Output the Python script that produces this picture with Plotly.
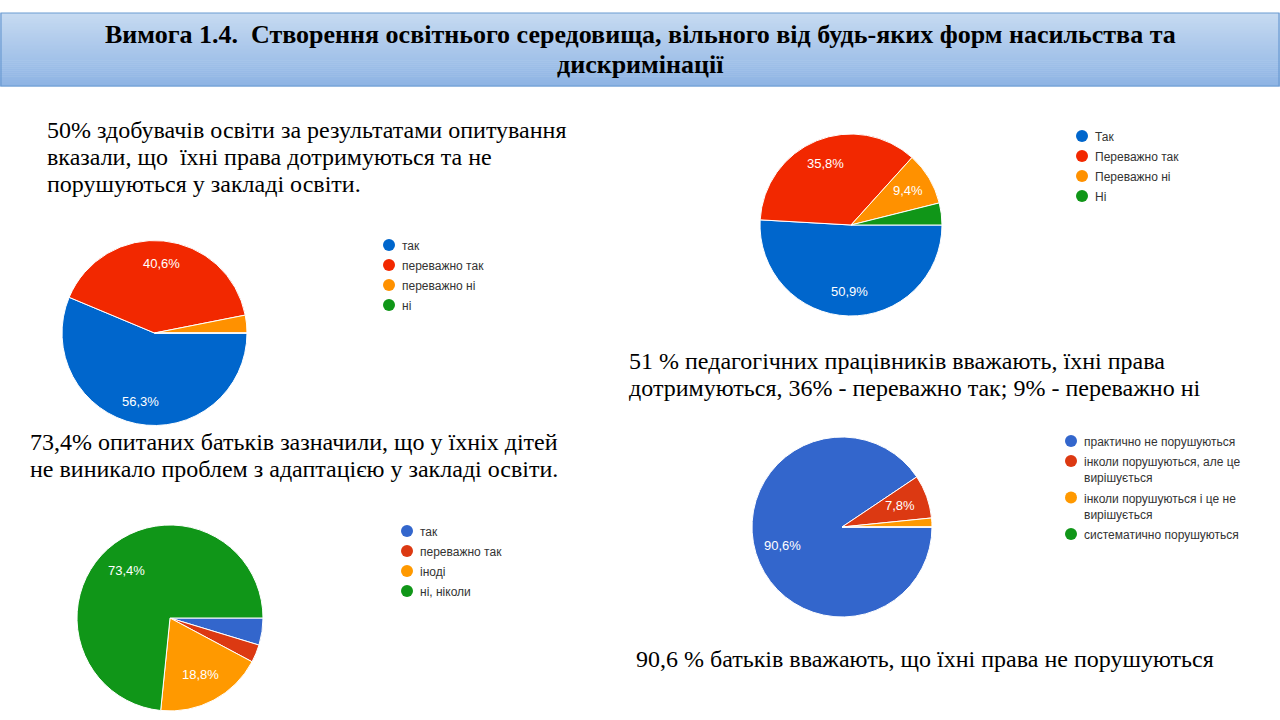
import math
import plotly.graph_objects as go

W, H = 1280, 720

title_lines = ["Вимога 1.4.  Створення освітнього середовища, вільного від будь-яких форм насильства та",
               "дискримінації"]

# Pie 1 — здобувачі освіти
p1_labels = ["так", "переважно так", "переважно ні", "ні"]
p1_values = [56.3, 40.6, 3.1, 0.0]
p1_colors = ["#0066cc", "#f22800", "#ff9100", "#109618"]

# Pie 2 — педагогічні працівники
p2_labels = ["Так", "Переважно так", "Переважно ні", "Ні"]
p2_values = [50.9, 35.8, 9.4, 3.9]
p2_colors = ["#0066cc", "#f22800", "#ff9100", "#109618"]

# Pie 3 — батьки (адаптація)
p3_labels = ["так", "переважно так", "іноді", "ні, ніколи"]
p3_values = [4.7, 3.1, 18.8, 73.4]
p3_colors = ["#3366cc", "#dc3912", "#ff9900", "#109618"]

# Pie 4 — батьки (права)
p4_labels = ["практично не порушуються", "інколи порушуються, але це<br>вирішується",
             "інколи порушуються і це не<br>вирішується", "систематично порушуються"]
p4_values = [90.6, 7.8, 1.6, 0.0]
p4_colors = ["#3366cc", "#dc3912", "#ff9900", "#109618"]

texts = [
    (47, 130, ["50% здобувачів освіти за результатами опитування",
               "вказали, що  їхні права дотримуються та не",
               "порушуються у закладі освіти."]),
    (30, 442, ["73,4% опитаних батьків зазначили, що у їхніх дітей",
               "не виникало проблем з адаптацією у закладі освіти."]),
    (629, 361, ["51 % педагогічних працівників вважають, їхні права",
                "дотримуються, 36% - переважно так; 9% - переважно ні"]),
    (636, 659, ["90,6 % батьків вважають, що їхні права не порушуються"]),
]

fig = go.Figure()
shapes = []
annotations = []


def px_x(x):
    return x / W


def px_y(y):
    return 1 - y / H


def add_pie(values, labels, colors, cx, cy, r, lr=0.72):
    fig.add_trace(go.Pie(
        values=values, labels=labels, textinfo="none",
        marker=dict(colors=colors, line=dict(color="white", width=1)),
        sort=False, direction="clockwise", rotation=90, showlegend=False,
        hoverinfo="label+percent",
        domain=dict(x=[px_x(cx - r), px_x(cx + r)], y=[px_y(cy + r), px_y(cy - r)]),
    ))
    total = sum(values)
    cum = 0.0
    for v in values:
        if v >= 5:
            mid = (cum + v / 2) / total * 2 * math.pi  # clockwise from 3 o'clock
            x = cx + lr * r * math.cos(mid)
            y = cy + lr * r * math.sin(mid)
            annotations.append(dict(text=f"{v:.1f}".replace(".", ",") + "%", x=px_x(x), y=px_y(y),
                                    xref="paper", yref="paper", xanchor="center", yanchor="middle",
                                    showarrow=False,
                                    font=dict(family="Liberation Sans", size=13, color="white")))
        cum += v


add_pie(p1_values, p1_labels, p1_colors, 154.5, 333, 92.5, 0.76)
add_pie(p2_values, p2_labels, p2_colors, 851, 225, 91, 0.73)
add_pie(p3_values, p3_labels, p3_colors, 170, 618, 93, 0.69)
add_pie(p4_values, p4_labels, p4_colors, 842, 527, 90, 0.69)

# banner gradient
top, bot = 13, 86
c0 = (0xc6, 0xda, 0xf1)
c1 = (0x8e, 0xb4, 0xe4)
n = 37
for i in range(n):
    t = i / (n - 1)
    col = "rgb(%d,%d,%d)" % tuple(round(a + (b - a) * t) for a, b in zip(c0, c1))
    y0 = top + (bot - top) * i / n
    y1 = top + (bot - top) * (i + 1) / n
    shapes.append(dict(type="rect", xref="paper", yref="paper", layer="below",
                       x0=0, x1=1, y0=px_y(y1 + 0.5), y1=px_y(y0), fillcolor=col, line=dict(width=0)))
shapes.append(dict(type="rect", xref="paper", yref="paper", layer="below",
                   x0=px_x(1), x1=px_x(1279), y0=px_y(bot), y1=px_y(top),
                   line=dict(color="#6b9bd2", width=1.2), fillcolor="rgba(0,0,0,0)"))

for i, line in enumerate(title_lines):
    annotations.append(dict(text="<b>" + line + "</b>", x=0.5, y=px_y(34 + i * 30), xref="paper", yref="paper",
                            xanchor="center", yanchor="middle", showarrow=False,
                            font=dict(family="Liberation Serif", size=26, color="black")))

for x0, y0, lines in texts:
    for i, line in enumerate(lines):
        annotations.append(dict(text=line, x=px_x(x0 - 2), y=px_y(y0 + i * 26.8), xref="paper", yref="paper",
                                xanchor="left", yanchor="middle", showarrow=False,
                                font=dict(family="Liberation Serif", size=24, color="black")))


def add_legend(labels, colors, dx, dy):
    y = dy
    for lab, col in zip(labels, colors):
        shapes.append(dict(type="circle", xref="paper", yref="paper",
                           x0=px_x(dx - 6), x1=px_x(dx + 6), y0=px_y(y + 6), y1=px_y(y - 6),
                           fillcolor=col, line=dict(width=0)))
        nl = lab.count("<br>") + 1
        annotations.append(dict(text=lab, x=px_x(dx + 11), y=px_y(y - 8), xref="paper", yref="paper",
                                xanchor="left", yanchor="top", align="left", showarrow=False,
                                font=dict(family="Liberation Sans", size=12, color="#333333")))
        y += 20 + (nl - 1) * 16.5


add_legend(p1_labels, p1_colors, 389, 245)
add_legend(p2_labels, p2_colors, 1082, 136)
add_legend(p3_labels, p3_colors, 407, 531)
add_legend(p4_labels, p4_colors, 1071, 441)

fig.update_layout(width=W, height=H, margin=dict(l=0, r=0, t=0, b=0),
                  paper_bgcolor="white", plot_bgcolor="white",
                  shapes=shapes, annotations=annotations)

fig.write_html("out.html", config={"displayModeBar": False})
